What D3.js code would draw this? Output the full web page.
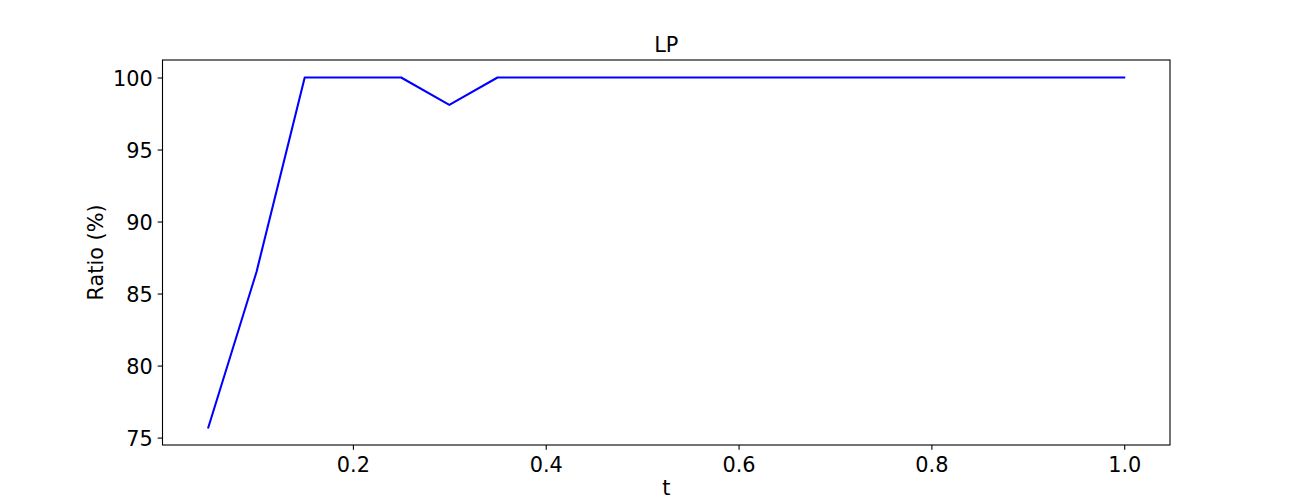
<!DOCTYPE html>
<html>
<head>
<meta charset="utf-8">
<script src="https://cdn.jsdelivr.net/npm/d3@7"></script>
<style>
  html, body { margin: 0; padding: 0; background: #fff; }
  svg { display: block; font-family: "DejaVu Sans", sans-serif; }
</style>
</head>
<body>
<svg id="chart" width="1300" height="500"></svg>
<script>
const tValues = [0.05, 0.10, 0.15, 0.20, 0.25, 0.30, 0.35, 0.40, 0.45, 0.50,
                 0.55, 0.60, 0.65, 0.70, 0.75, 0.80, 0.85, 0.90, 0.95, 1.00];
const ratioValues = [75.7, 86.5, 100.0, 100.0, 100.0, 98.1, 100.0, 100.0, 100.0, 100.0,
                     100.0, 100.0, 100.0, 100.0, 100.0, 100.0, 100.0, 100.0, 100.0, 100.0];
const xTicks = [0.2, 0.4, 0.6, 0.8, 1.0];
const yTicks = [75, 80, 85, 90, 95, 100];
const title = "LP";
const xLabel = "t";
const yLabel = "Ratio (%)";

const svg = d3.select("#chart");
const L = 162.5, R = 1170, T = 60, B = 445;
const fs = 20.83;

const xmin = d3.min(tValues), xmax = d3.max(tValues);
const xm = (xmax - xmin) * 0.05;
const ymin = d3.min(ratioValues), ymax = d3.max(ratioValues);
const ym = (ymax - ymin) * 0.05;

const x = d3.scaleLinear().domain([xmin - xm, xmax + xm]).range([L, R]);
const y = d3.scaleLinear().domain([ymin - ym, ymax + ym]).range([B, T]);

// line
const line = d3.line().x((d, i) => x(tValues[i])).y(d => y(d));
svg.append("path")
  .datum(ratioValues)
  .attr("d", line)
  .attr("fill", "none")
  .attr("stroke", "#0000ff")
  .attr("stroke-width", 2.08)
  .attr("stroke-linejoin", "round")
  .attr("stroke-linecap", "square");

// x axis
const xAxis = d3.axisBottom(x).tickValues(xTicks).tickSize(4.86).tickPadding(4.86)
  .tickFormat(d3.format(".1f"));
const gx = svg.append("g").attr("transform", `translate(0,${B})`).call(xAxis);
gx.select(".domain").remove();
gx.selectAll(".tick line").attr("stroke", "#000").attr("stroke-width", 1.1);
gx.selectAll(".tick text").attr("font-size", fs).attr("fill", "#000")
  .attr("font-family", "DejaVu Sans").attr("dy", null).attr("y", 27);

// y axis
const yAxis = d3.axisLeft(y).tickValues(yTicks).tickSize(4.86).tickPadding(4.86)
  .tickFormat(d3.format("d"));
const gy = svg.append("g").attr("transform", `translate(${L},0)`).call(yAxis);
gy.select(".domain").remove();
gy.selectAll(".tick line").attr("stroke", "#000").attr("stroke-width", 1.1);
gy.selectAll(".tick text").attr("font-size", fs).attr("fill", "#000")
  .attr("font-family", "DejaVu Sans").attr("dy", null).attr("y", 7.6);

// frame
svg.append("rect")
  .attr("x", L).attr("y", T).attr("width", R - L).attr("height", B - T)
  .attr("fill", "none").attr("stroke", "#000").attr("stroke-width", 1.1);

// title
svg.append("text")
  .attr("x", (L + R) / 2).attr("y", 52)
  .attr("text-anchor", "middle").attr("font-size", fs).attr("fill", "#000")
  .text(title);

// x label
svg.append("text")
  .attr("x", (L + R) / 2).attr("y", 495)
  .attr("text-anchor", "middle").attr("font-size", fs).attr("fill", "#000")
  .text(xLabel);

// y label
svg.append("text")
  .attr("transform", `translate(102.5,${(T + B) / 2}) rotate(-90)`)
  .attr("text-anchor", "middle").attr("font-size", fs).attr("fill", "#000")
  .text(yLabel);
</script>
</body>
</html>
